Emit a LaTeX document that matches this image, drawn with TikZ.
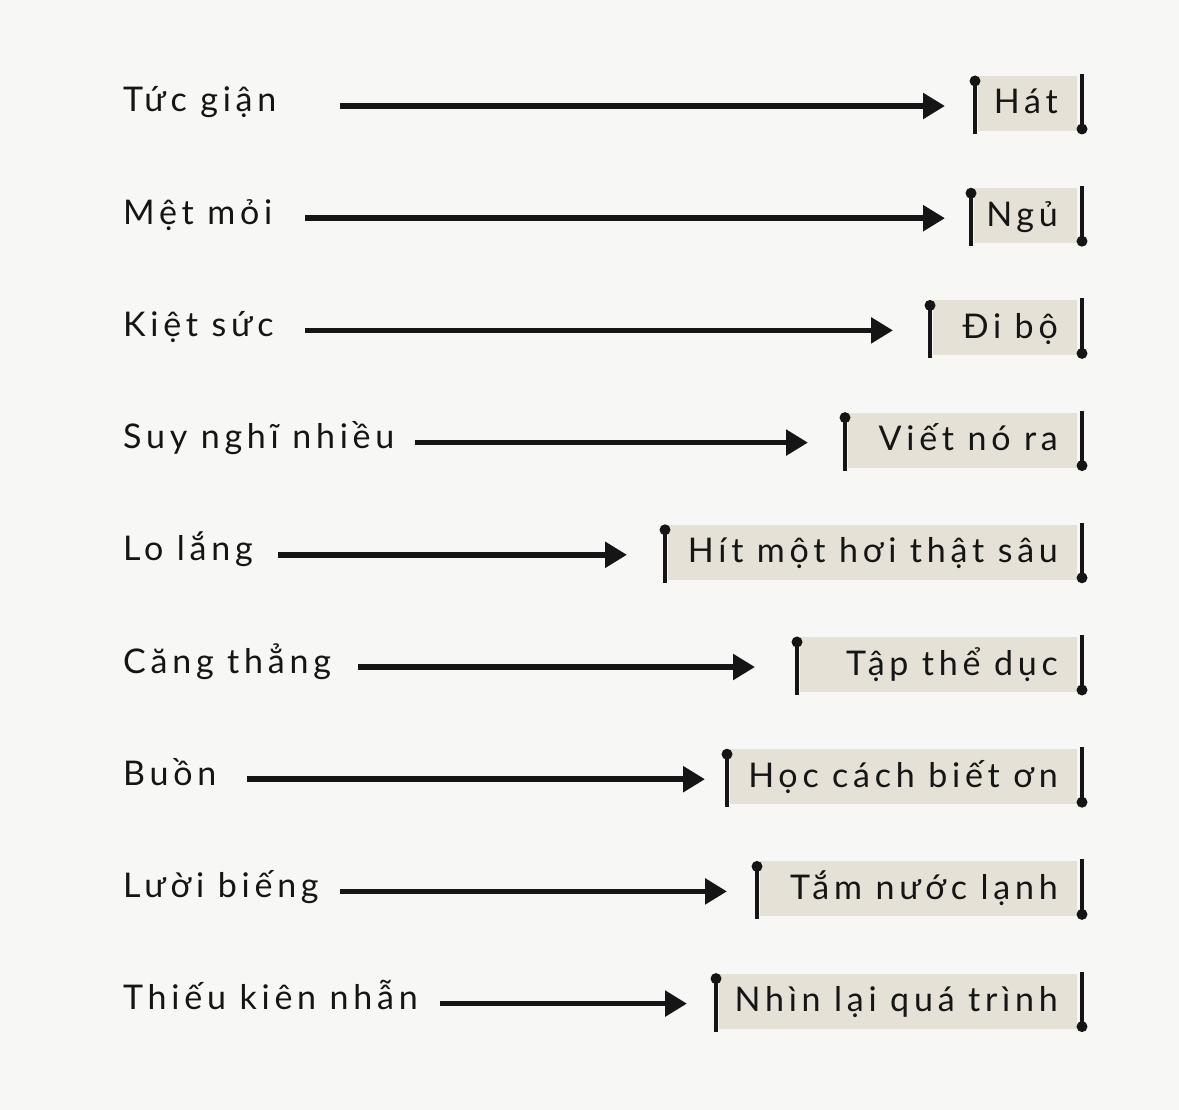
\documentclass[tikz,border=0pt]{standalone}
\usepackage{fontspec}
\setmainfont[LetterSpace=14]{Lato}
\usetikzlibrary{arrows.meta}
\definecolor{bg}{HTML}{F7F7F5}
\definecolor{beige}{HTML}{E6E1D6}
\definecolor{ink}{HTML}{151515}
\tikzset{
  lbl/.style={anchor=base west,inner sep=0pt,text=ink,font=\fontsize{34}{40}\selectfont},
  btxt/.style={anchor=base east,inner sep=0pt,text=ink,font=\fontsize{34}{40}\selectfont},
  conn/.style={line width=5.5pt,draw=ink,-{Triangle[length=22pt,width=25pt]}},
  bar/.style={line width=3.4pt,draw=ink},
  dotc/.style={circle,fill=ink,inner sep=0pt,minimum size=11pt},
}
\newcommand{\myrow}[7]{%
  % #1 name, #2 y, #3 label, #4 arrow start x, #5 arrow end x, #6 left bar x, #7 text
  \node[lbl] (l#1) at (123,#2+6) {#3};
  \coordinate (s#1) at (#4,#2);
  \coordinate (e#1) at (#5,#2);
  \fill[beige] (#6+3,#2-30) rectangle (1077,#2+25);
  \node[btxt] (t#1) at (1058,#2+8) {#7};
  \coordinate (lt#1) at (#6,#2-25);
  \coordinate (lb#1) at (#6,#2+28);
  \coordinate (rt#1) at (1082,#2-32);
  \coordinate (rb#1) at (1082,#2+23);
  \draw[conn] (s#1) -- (e#1);
  \draw[bar] (lt#1) -- (lb#1);
  \draw[bar] (rt#1) -- (rb#1);
  \node[dotc] at (lt#1) {};
  \node[dotc] at (rb#1) {};
}
\begin{document}
\begin{tikzpicture}[x=1pt,y=-1pt]
\fill[bg] (0,0) rectangle (1179,1110);
\useasboundingbox (0,0) rectangle (1179,1110);
\myrow{1}{106}{Tức giận}{340}{945}{975}{Hát}
\myrow{2}{218.2}{Mệt mỏi}{305}{945}{971}{Ngủ}
\myrow{3}{330.4}{Kiệt sức}{305}{893}{930}{Đi bộ}
\myrow{4}{442.6}{Suy nghĩ nhiều}{415}{808}{845}{Viết nó ra}
\myrow{5}{554.8}{Lo lắng}{278}{627}{665}{Hít một hơi thật sâu}
\myrow{6}{667}{Căng thẳng}{358}{755}{797}{Tập thể dục}
\myrow{7}{779.2}{Buồn}{247}{705}{727}{Học cách biết ơn}
\myrow{8}{891.4}{Lười biếng}{340}{727}{757}{Tắm nước lạnh}
\myrow{9}{1003.6}{Thiếu kiên nhẫn}{440}{687}{716}{Nhìn lại quá trình}
\end{tikzpicture}
\end{document}
